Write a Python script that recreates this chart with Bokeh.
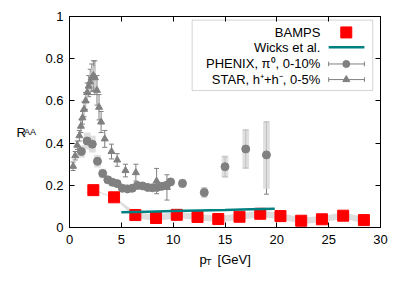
import math
from bokeh.plotting import figure
from bokeh.models import (ColumnDataSource, Range1d, LinearAxis, FixedTicker,
                          CustomJSTickFormatter, Whisker, TeeHead, Label, BoxAnnotation)
from bokeh.embed import file_html
from bokeh.resources import INLINE

# ---------------- data ----------------
BAMPS_PT = [2.3, 4.3, 6.35, 8.35, 10.35, 12.35, 14.35, 16.4, 18.4, 20.35, 22.35, 24.35, 26.4, 28.4]
BAMPS_RAA = [0.177, 0.143, 0.059, 0.045, 0.060, 0.050, 0.040, 0.051, 0.065, 0.054, 0.032, 0.039, 0.056, 0.035]
BAMPS_BAND = [0.003, 0.003, 0.014, 0.015, 0.015, 0.015, 0.015, 0.015, 0.015, 0.015, 0.015, 0.015, 0.015, 0.015]

WICKS_PT = [5.0, 7.5, 10.0, 12.5, 15.0, 17.5, 19.8]
WICKS_RAA = [0.072, 0.075, 0.078, 0.081, 0.083, 0.086, 0.089]

PHENIX_PT = [1.15, 1.7, 2.2, 2.7, 3.2, 3.7, 4.15, 4.6, 5.1, 5.6, 6.05, 6.55, 7.05, 7.55,
             8.0, 8.45, 8.9, 9.35, 9.75, 10.9, 13.0, 15.0, 17.0, 19.0]
PHENIX_RAA = [0.360, 0.410, 0.395, 0.314, 0.256, 0.226, 0.214, 0.208, 0.186, 0.183, 0.186,
              0.199, 0.197, 0.190, 0.188, 0.190, 0.195, 0.200, 0.216, 0.209, 0.166, 0.288,
              0.372, 0.344]
PHENIX_ERR_LO = [0.008, 0.008, 0.008, 0.007, 0.006, 0.006, 0.006, 0.006, 0.006, 0.006, 0.007,
                 0.007, 0.008, 0.008, 0.009, 0.010, 0.011, 0.012, 0.013, 0.014, 0.021, 0.047,
                 0.090, 0.186]
PHENIX_ERR_HI = [0.008, 0.008, 0.008, 0.007, 0.006, 0.006, 0.006, 0.006, 0.006, 0.006, 0.007,
                 0.007, 0.008, 0.008, 0.009, 0.010, 0.011, 0.012, 0.013, 0.014, 0.021, 0.047,
                 0.090, 0.156]
PHENIX_SYS = [0.030, 0.040, 0.040, 0.030, 0.022, 0.018, 0.016, 0.015, 0.015, 0.015, 0.015,
              0.015, 0.015, 0.015, 0.015, 0.015, 0.015, 0.016, 0.018, 0.021, 0.024, 0.053,
              0.095, 0.160]

STAR_PT = [0.35, 0.55, 0.75, 0.95, 1.1, 1.25, 1.4, 1.55, 1.7, 1.85, 2.0, 2.15, 2.3, 2.45,
           2.65, 2.85, 3.05, 3.4, 4.05, 4.6, 5.4, 6.4, 8.4, 9.4]
STAR_RAA = [0.29, 0.34, 0.39, 0.435, 0.48, 0.52, 0.56, 0.60, 0.64, 0.67, 0.69, 0.71, 0.72, 0.71,
            0.65, 0.57, 0.50, 0.42, 0.36, 0.32, 0.27, 0.26, 0.22, 0.19]
STAR_ERR = [0.02, 0.02, 0.02, 0.025, 0.03, 0.03, 0.035, 0.04, 0.045, 0.05, 0.06, 0.065, 0.07,
            0.08, 0.07, 0.06, 0.05, 0.04, 0.035, 0.03, 0.03, 0.04, 0.06, 0.06]
STAR_SYS = [0.0, 0.0, 0.0, 0.0, 0.0, 0.0, 0.03, 0.035, 0.04, 0.04, 0.045, 0.045, 0.045, 0.045,
            0.0, 0.0, 0.0, 0.0, 0.0, 0.0, 0.0, 0.0, 0.0, 0.0]

X_TICKS = [0, 5, 10, 15, 20, 25, 30]
Y_TICKS = [0, 0.2, 0.4, 0.6, 0.8, 1.0]

LEGEND_LABELS = ["BAMPS", "Wicks et al.", "PHENIX, \u03c0\u2070, 0-10%", "STAR, h\u207a+h\u207b, 0-5%"]

# ---------------- styles ----------------
FONT = "Liberation Sans"
GREY = "#808080"
BOX = "#d4d4d4"
RED = "#ff0000"
TEAL = "#008080"

p = figure(width=395, height=280, output_backend="svg", toolbar_location=None,
           x_range=Range1d(0, 30), y_range=Range1d(0, 1),
           min_border_left=69, min_border_right=15, min_border_top=16, min_border_bottom=53)
p.background_fill_color = "white"
p.border_fill_color = "white"
p.outline_line_color = "black"
p.grid.visible = False

for ax in (p.xaxis[0], p.yaxis[0]):
    ax.major_tick_in = 5
    ax.major_tick_out = 0
    ax.minor_tick_line_color = None
    ax.major_label_text_font = FONT
    ax.major_label_text_font_size = "13px"
    ax.major_label_text_color = "black"
    ax.axis_line_color = "black"
p.xaxis[0].ticker = FixedTicker(ticks=X_TICKS)
p.yaxis[0].ticker = FixedTicker(ticks=Y_TICKS)
p.xaxis[0].major_label_standoff = 7
p.yaxis[0].major_label_standoff = 6
p.yaxis[0].formatter = CustomJSTickFormatter(code="return String(Math.round(tick*10)/10);")

top = LinearAxis(ticker=FixedTicker(ticks=X_TICKS), major_tick_in=5, major_tick_out=0,
                 minor_tick_line_color=None, major_label_text_font_size="0px",
                 major_label_standoff=0)
right = LinearAxis(ticker=FixedTicker(ticks=Y_TICKS), major_tick_in=5, major_tick_out=0,
                   minor_tick_line_color=None, major_label_text_font_size="0px",
                   major_label_standoff=0)
top.formatter = CustomJSTickFormatter(code="return '';")
right.formatter = CustomJSTickFormatter(code="return '';")
p.add_layout(top, "above")
p.add_layout(right, "right")

# legend frame (under the glyphs)
LEG_L, LEG_R, LEG_T, LEG_B = 11.83, 29.25, 0.983, 0.649
p.add_layout(BoxAnnotation(left=LEG_L, right=LEG_R, top=LEG_T, bottom=LEG_B,
                           fill_color="white", fill_alpha=1.0, level="underlay",
                           line_color="#707070", line_width=1))

# BAMPS band
p.varea(x=BAMPS_PT,
        y1=[v - e for v, e in zip(BAMPS_RAA, BAMPS_BAND)],
        y2=[v + e for v, e in zip(BAMPS_RAA, BAMPS_BAND)],
        fill_color="#dedede")

# systematic boxes
p.rect(x=PHENIX_PT, y=PHENIX_RAA, width=0.65, height=[2 * s for s in PHENIX_SYS],
       fill_color=BOX, fill_alpha=0.75, line_color=None)
p.rect(x=STAR_PT, y=STAR_RAA, width=0.18, height=[2 * s for s in STAR_SYS],
       fill_color=BOX, fill_alpha=0.75, line_color=None)

# STAR error bars + markers
star_src = ColumnDataSource(dict(x=STAR_PT,
                                 lo=[v - e for v, e in zip(STAR_RAA, STAR_ERR)],
                                 hi=[v + e for v, e in zip(STAR_RAA, STAR_ERR)]))
p.add_layout(Whisker(source=star_src, base="x", lower="lo", upper="hi", dimension="height",
                     line_color=GREY, line_width=1,
                     upper_head=TeeHead(size=5, line_color=GREY),
                     lower_head=TeeHead(size=5, line_color=GREY)))
p.scatter(STAR_PT, STAR_RAA, marker="triangle", size=7, fill_color=GREY, line_color=GREY)

# PHENIX error bars + markers
ph_src = ColumnDataSource(dict(x=PHENIX_PT,
                               lo=[v - e for v, e in zip(PHENIX_RAA, PHENIX_ERR_LO)],
                               hi=[v + e for v, e in zip(PHENIX_RAA, PHENIX_ERR_HI)]))
p.add_layout(Whisker(source=ph_src, base="x", lower="lo", upper="hi", dimension="height",
                     line_color=GREY, line_width=1,
                     upper_head=TeeHead(size=5, line_color=GREY),
                     lower_head=TeeHead(size=5, line_color=GREY)))
p.scatter(PHENIX_PT, PHENIX_RAA, marker="circle", size=8, fill_color=GREY, line_color=GREY)

# BAMPS squares
p.scatter(BAMPS_PT, BAMPS_RAA, marker="square", size=11, fill_color=RED, line_color=RED)

# Wicks line
p.line(WICKS_PT, WICKS_RAA, line_color=TEAL, line_width=2.5)

# ---------------- legend content (gnuplot style: text, then sample) ----------------
ROWS = [0.9245, 0.854, 0.775, 0.701]
TXT_X = 24.2
S0, S1, SC = 25.0, 28.45, 26.7
for lab, yy in zip(LEGEND_LABELS, ROWS):
    p.add_layout(Label(x=TXT_X, y=yy, text=lab, text_align="right", text_baseline="middle",
                       text_font=FONT, text_font_size="13px", text_color="black"))
p.scatter([SC], [ROWS[0]], marker="square", size=11, fill_color=RED, line_color=RED)
p.segment([S0], [ROWS[1]], [S1], [ROWS[1]], line_color=TEAL, line_width=2.5)
for yy, mk in ((ROWS[2], "circle"), (ROWS[3], "triangle")):
    p.segment([S0], [yy], [S1], [yy], line_color=GREY, line_width=1)
    p.segment([S0, S1], [yy - 0.011, yy - 0.011], [S0, S1], [yy + 0.011, yy + 0.011],
              line_color=GREY, line_width=1)
    p.scatter([SC], [yy], marker=mk, size=7, fill_color=GREY, line_color=GREY)

# ---------------- axis titles with subscripts, in side panels ----------------
def title_part(side, x, y, text, size, angle=0.0):
    p.add_layout(Label(x=x, y=y, x_units="screen", y_units="screen", text=text,
                       text_font=FONT, text_font_size=size, angle=angle,
                       text_baseline="alphabetic", text_align="left", text_color="black"),
                 side)

NB = "\u00a0"
title_part("below", 130, 2, "p" + NB * 3 + "[GeV]", "13px")
title_part("below", 136.5, 10, "T", "9px")
title_part("left", -17, 95.3, "R", "13px", 0.0)
title_part("left", 2.5, 96, "AA", "9px", 0.0)

open("out.html", "w").write(file_html(p, INLINE))
